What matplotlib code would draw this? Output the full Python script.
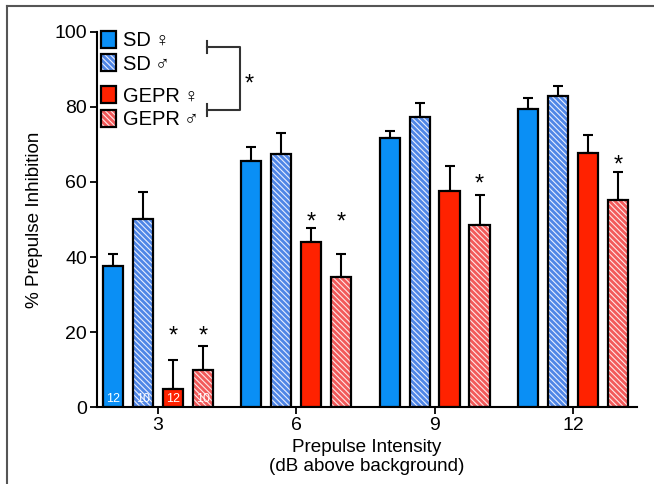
import numpy as np
import matplotlib
matplotlib.use("Agg")
import matplotlib.pyplot as plt
from matplotlib.patches import Patch
from matplotlib.lines import Line2D

plt.rcParams['font.family'] = ['Liberation Sans', 'DejaVu Sans']
plt.rcParams['hatch.linewidth'] = 0.8

# Prepulse intensities (dB above background)
groups = ['3', '6', '9', '12']

# % prepulse inhibition, mean and upper error
sdFemale = [37.7, 65.6, 71.6, 79.5]
sdFemaleErr = [3.1, 3.6, 2.0, 3.0]
sdMale = [50.1, 67.5, 77.2, 82.8]
sdMaleErr = [7.2, 5.5, 3.8, 2.8]
geprFemale = [4.8, 44.0, 57.6, 67.6]
geprFemaleErr = [7.7, 3.8, 6.7, 4.8]
geprMale = [10.0, 34.7, 48.4, 55.2]
geprMaleErr = [6.3, 6.1, 8.0, 7.5]

seriesLabels = ['SD\u2009\u2640', 'SD\u2009\u2642', 'GEPR\u2009\u2640', 'GEPR\u2009\u2642']
sampleSizes = ['12', '10', '12', '10']

# significance stars: (series index, group index, y position)
stars = [(2, 0, 20.5), (3, 0, 20.5), (2, 1, 50.7), (3, 1, 50.7), (3, 2, 61.0), (3, 3, 66.0)]

means = [sdFemale, sdMale, geprFemale, geprMale]
errs = [sdFemaleErr, sdMaleErr, geprFemaleErr, geprMaleErr]
faceColors = ['#0a8ff5', '#4f86e6', '#ff2200', '#f25a5a']
hatchColors = [None, '#e8eeff', None, '#ffe8e8']
hatches = [None, '\\\\\\\\\\\\', None, '\\\\\\\\\\\\']

fig = plt.figure(figsize=(6.54, 4.84), dpi=100)
ax = fig.add_axes([0.148, 0.159, 0.826, 0.775])

x = np.arange(len(groups))
barWidth = 0.145
offsets = [-0.325, -0.108, 0.108, 0.325]

for i in range(4):
    pos = x + offsets[i]
    if hatches[i]:
        ax.bar(pos, means[i], barWidth, color=faceColors[i], hatch=hatches[i],
               edgecolor=hatchColors[i], linewidth=0, zorder=2)
        ax.bar(pos, means[i], barWidth, fill=False, edgecolor='black', linewidth=1.6, zorder=3)
    else:
        ax.bar(pos, means[i], barWidth, color=faceColors[i], edgecolor='black',
               linewidth=1.6, zorder=3)
    ax.errorbar(pos, means[i], yerr=[np.zeros(4), errs[i]], fmt='none', ecolor='black',
                elinewidth=1.5, capsize=3.8, capthick=1.5, zorder=1)
    # sample size inside first group
    ax.text(pos[0], 2.2, sampleSizes[i], color='white', fontsize=9,
            ha='center', va='center', zorder=4)

# asterisk glyph sits high in its box, nudge down a little
for s, g, yy in stars:
    ax.text(x[g] + offsets[s], yy - 1.6, '*', fontsize=17, ha='center', va='center', zorder=4)

ax.set_xlim(-0.441, 3.463)
ax.set_ylim(0, 100)
ax.set_xticks(x)
ax.set_xticklabels(groups)
ax.set_yticks([0, 20, 40, 60, 80, 100])
ax.tick_params(axis='both', labelsize=14, width=1.3, length=5, pad=2)
for side in ['top', 'right']:
    ax.spines[side].set_visible(False)
for side in ['left', 'bottom']:
    ax.spines[side].set_linewidth(1.5)
ax.set_xlabel('Prepulse Intensity\n(dB above background)', fontsize=13.6, labelpad=4,
              linespacing=1.15)
ax.set_ylabel('% Prepulse Inhibition', fontsize=13.6, labelpad=8)

# legend, in two blocks
handles = []
for i in range(4):
    if hatches[i]:
        h = (Patch(facecolor=faceColors[i], hatch=hatches[i],
                   edgecolor=hatchColors[i], linewidth=0),
             Patch(fill=False, edgecolor='black', linewidth=1.6))
    else:
        h = Patch(facecolor=faceColors[i], edgecolor='black', linewidth=1.6)
    handles.append(h)

legKw = dict(loc='upper left', frameon=False, fontsize=14.5, handlelength=0.75,
             handleheight=0.9, handletextpad=0.35, labelspacing=0.2,
             borderpad=0.1, borderaxespad=0)
legSD = ax.legend(handles[:2], seriesLabels[:2], bbox_to_anchor=(0.004, 1.008), **legKw)
ax.add_artist(legSD)
ax.legend(handles[2:], seriesLabels[2:], bbox_to_anchor=(0.004, 0.86), **legKw)

# bracket between SD and GEPR
bx0, bx1 = 0.354, 0.593
by0, by1 = 96.0, 79.2
ax.plot([bx0, bx1, bx1, bx0], [by0, by0, by1, by1], color='#333333', lw=1.5,
        clip_on=False, zorder=5)
ax.plot([bx0, bx0], [by0 - 1.5, by0 + 1.5], color='#333333', lw=1.5, clip_on=False)
ax.plot([bx0, bx0], [by1 - 1.5, by1 + 1.5], color='#333333', lw=1.5, clip_on=False)
ax.text(bx1 + 0.07, (by0 + by1) / 2 - 1.6, '*', fontsize=17, ha='center', va='center')

# frame of the original panel (top and left edges)
fig.add_artist(Line2D([7 / 654, 1], [1 - 6 / 484, 1 - 6 / 484], color='#555555', lw=1.5))
fig.add_artist(Line2D([7 / 654, 7 / 654], [0, 1 - 6 / 484], color='#555555', lw=1.5))

fig.savefig('out.png', dpi=100)
